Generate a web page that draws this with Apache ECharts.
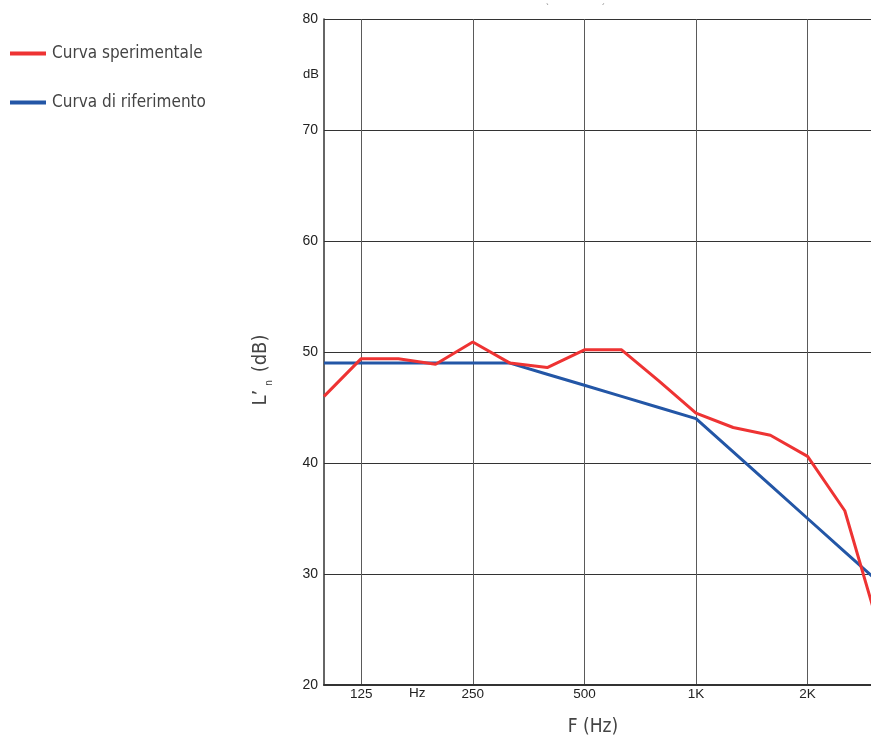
<!DOCTYPE html>
<html>
<head>
<meta charset="utf-8">
<script src="https://cdn.jsdelivr.net/npm/echarts@6/dist/echarts.min.js"></script>
<style>
html,body{margin:0;padding:0;background:#fff;}
#chart{width:871px;height:735px;}
</style>
</head>
<body>
<div id="chart"></div>
<script>
// Third-octave band centre frequencies (Hz)
const bands = ['100','125','160','200','250','315','400','500','630','800','1000','1250','1600','2000','2500','3150'];
// Tick labels shown on the frequency axis
const tickLabels = {'125':'125','250':'250','500':'500','1000':'1K','2000':'2K'};
// Measured curve (dB)
const curvaSperimentale = [46.0, 49.4, 49.4, 48.9, 50.9, 49.0, 48.6, 50.2, 50.2, 47.4, 44.5, 43.2, 42.5, 40.6, 35.7, 24.2];
// Shifted reference curve (dB)
const curvaRiferimento = [49, 49, 49, 49, 49, 49, 48, 47, 46, 45, 44, 41, 38, 35, 32, 29];
const yTicks = {min: 20, max: 80, step: 10};

const narrow = '"DejaVu Sans Condensed", sans-serif';
const chart = echarts.init(document.getElementById('chart'), null, {renderer: 'canvas'});
const shown = (idx) => tickLabels[bands[idx]] !== undefined;

chart.setOption({
  animation: false,
  backgroundColor: '#ffffff',
  grid: {left: 324, top: 19, bottom: 50, right: -11, containLabel: false, outerBoundsMode: 'none'},
  legend: {
    orient: 'vertical',
    left: 10,
    top: 45,
    padding: 0,
    itemGap: 32,
    itemWidth: 36,
    itemHeight: 4,
    icon: 'rect',
    textStyle: {fontFamily: narrow, fontSize: 17, color: '#444', fontWeight: 'normal', padding: [0, 0, 0, 1]},
    data: ['Curva sperimentale', 'Curva di riferimento']
  },
  xAxis: {
    type: 'category',
    data: bands,
    boundaryGap: false,
    name: 'F (Hz)',
    nameLocation: 'middle',
    nameGap: 33,
    nameTextStyle: {fontFamily: narrow, fontSize: 19, color: '#444', padding: [0, 20, 0, 0]},
    axisLine: {show: true, lineStyle: {color: '#333', width: 2}},
    axisTick: {show: false},
    axisLabel: {
      interval: (idx) => shown(idx),
      formatter: (v) => tickLabels[v] || '',
      fontFamily: 'Liberation Sans, Arial, sans-serif',
      fontSize: 13.5,
      color: '#222',
      margin: 2
    },
    splitLine: {show: true, interval: (idx) => shown(idx), lineStyle: {color: '#5a5a5a', width: 1}}
  },
  yAxis: {
    type: 'value',
    min: yTicks.min,
    max: yTicks.max,
    interval: yTicks.step,
    name: '{a|L’}{sub|n}{a| (dB)}',
    nameLocation: 'middle',
    nameGap: 50,
    nameTextStyle: {
      padding: [0, 36, 0, 0],
      rich: {
        a: {fontFamily: narrow, fontSize: 20, color: '#444', lineHeight: 26, verticalAlign: 'middle'},
        sub: {fontFamily: narrow, fontSize: 10, color: '#444', verticalAlign: 'bottom', padding: [0, 2, 0, 4]}
      }
    },
    axisLine: {show: true, lineStyle: {color: '#333', width: 1.5}},
    axisTick: {show: false},
    axisLabel: {fontFamily: 'Liberation Sans, Arial, sans-serif', fontSize: 14, color: '#222', margin: 6},
    splitLine: {show: true, lineStyle: {color: '#333', width: 1}}
  },
  graphic: [
    {type: 'text', left: 303, top: 68, style: {text: 'dB', font: '13px "Liberation Sans", Arial, sans-serif', fill: '#222'}},
    {type: 'text', left: 409, top: 686, style: {text: 'Hz', font: '13.5px "Liberation Sans", Arial, sans-serif', fill: '#222'}},
    {type: 'text', left: 546, top: 3, style: {text: '`', font: '9px "Liberation Sans", Arial, sans-serif', fill: '#777'}},
    {type: 'text', left: 602, top: 3, style: {text: '´', font: '9px "Liberation Sans", Arial, sans-serif', fill: '#777'}}
  ],
  series: [
    {
      name: 'Curva sperimentale',
      type: 'line',
      data: curvaSperimentale,
      symbol: 'none',
      color: '#ee3333',
      lineStyle: {width: 3, color: '#ee3333'},
      z: 3
    },
    {
      name: 'Curva di riferimento',
      type: 'line',
      data: curvaRiferimento,
      symbol: 'none',
      color: '#2356a6',
      lineStyle: {width: 3, color: '#2356a6'},
      z: 2
    }
  ]
});
</script>
</body>
</html>
